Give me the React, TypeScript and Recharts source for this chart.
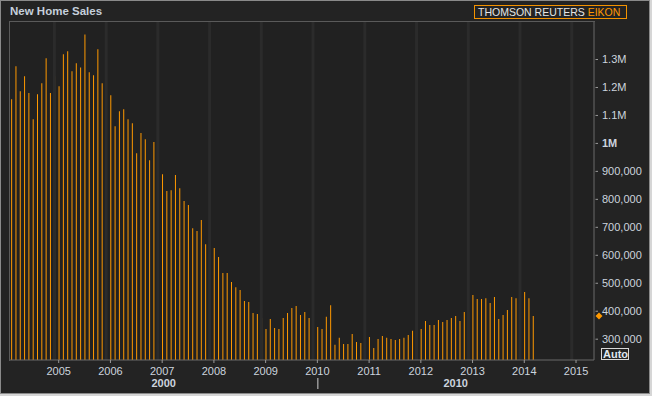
import React from 'react'
import { BarChart, Bar, XAxis, YAxis, CartesianGrid, ReferenceLine } from 'recharts'

// new home sales, seasonally adjusted annual rate, thousands
// one bar per month, first bar is Feb 2004 (month 1 counted from Jan 2004)
const FIRST_MONTH = 1
const SALES = [
  1156, 1274, 1185, 1238, 1178, 1085, 1174, 1213, 1303, 1178, 1238,
  1203, 1317, 1328, 1256, 1285, 1270, 1388, 1253, 1242, 1335, 1213, 1238,
  1170, 1060, 1113, 1120, 1085, 1070, 963, 1035, 1013, 938, 1003, 995,
  888, 828, 831, 885, 838, 792, 778, 695, 685, 724, 638, 617,
  624, 592, 535, 535, 503, 484, 474, 435, 431, 392, 388, 374,
  335, 370, 338, 335, 374, 392, 410, 417, 385, 395, 374, 349,
  342, 335, 378, 420, 278, 303, 281, 281, 317, 288, 285, 324,
  306, 267, 299, 310, 303, 299, 295, 299, 303, 313, 328, 338,
  335, 363, 349, 349, 367, 360, 367, 374, 381, 363, 395, 395,
  456, 442, 442, 445, 428, 449, 370, 385, 403, 449, 445, 435,
  467, 445, 381,
]
const YEAR_LABELS = [2005, 2006, 2007, 2008, 2009, 2010, 2011, 2012, 2013, 2014, 2015]
const VALUE_TICKS = [300000, 400000, 500000, 600000, 700000, 800000, 900000, 1000000, 1100000, 1200000, 1300000]
const DECADES = [2000, 2010]

const X_DOMAIN: [number, number] = [0.7, 136.17]
const Y_DOMAIN: [number, number] = [223800, 1432300]

const data = SALES.map((v, i) => ({ m: FIRST_MONTH + i, sales: v * 1000 }))
const yearTicks = YEAR_LABELS.map((y) => (y - 2004) * 12)
const stripes = YEAR_LABELS.map((y) => (y - 2004) * 12 - 1)
const lastValue = data[data.length - 1].sales

// decade labels sit in the middle of the visible part of each decade
const decadeTicks: number[] = []
const decadeNames: Record<string, string> = {}
DECADES.forEach((d, i) => {
  const start = Math.max((d - 2004) * 12, X_DOMAIN[0])
  const end = Math.min((d + 10 - 2004) * 12, X_DOMAIN[1])
  const mid = (start + end) / 2
  decadeTicks.push(mid)
  decadeNames[String(mid)] = String(d)
  if (i > 0) decadeTicks.push((d - 2004) * 12)
})

const FONT = '"Liberation Sans", Arial, sans-serif'
const TEXT = '#ccd4de'

const fmtValue = (v: number) => (v >= 1000000 ? v / 1000000 + 'M' : v.toLocaleString('en-US'))

function ValueTick(props: any) {
  const { x, y, payload } = props
  const v = payload.value
  if (v === lastValue) {
    return <path d={`M${x + 5},${y - 3.5} L${x + 8.5},${y} L${x + 5},${y + 3.5} L${x + 1.5},${y} Z`} fill="#ff9900" />
  }
  return (
    <g>
      <line x1={x + 1.5} x2={x + 4} y1={y + 0.5} y2={y + 0.5} stroke="#9a9a9a" />
      <text
        x={x + 8}
        y={y}
        dy="0.36em"
        fill={TEXT}
        fontSize={11}
        fontFamily={FONT}
        fontWeight={v === 1000000 ? 'bold' : 'normal'}
      >
        {fmtValue(v)}
      </text>
    </g>
  )
}

function DecadeTick(props: any) {
  const { x, y, payload } = props
  const name = decadeNames[String(payload.value)]
  if (!name) {
    return <line x1={x + 0.5} x2={x + 0.5} y1={y} y2={y + 11} stroke="#d0d0d0" />
  }
  return (
    <text x={x} y={y + 9} textAnchor="middle" fill={TEXT} fontSize={11} fontWeight="bold" fontFamily={FONT}>
      {name}
    </text>
  )
}

export default function App() {
  return (
    <div style={{ position: 'absolute', left: 0, top: 0, width: 652, height: 396, background: '#d6d6d6' }}>
      <div
        style={{
          position: 'absolute',
          left: 0,
          top: 0,
          width: 650,
          height: 394,
          boxSizing: 'border-box',
          border: '1px solid #8a8a8a',
          background: '#232323',
        }}
      />
      <div style={{ position: 'absolute', left: 0, top: 0 }}>
        <BarChart width={652} height={396} data={data} margin={{ top: 22, right: 0, left: 10, bottom: 0 }}>
          <CartesianGrid horizontal={false} vertical={false} fill="#212121" />
          {stripes.map((s) => (
            <ReferenceLine key={s} x={s} stroke="#2b2b2b" strokeWidth={3} />
          ))}
          <XAxis
            dataKey="m"
            type="number"
            domain={X_DOMAIN}
            allowDataOverflow
            ticks={yearTicks}
            interval={0}
            tickFormatter={(m: number) => String(2004 + m / 12)}
            height={18}
            tickSize={3}
            tickMargin={4}
            axisLine={{ stroke: '#6b6b6b' }}
            tickLine={{ stroke: '#9a9a9a' }}
            tick={{ fill: TEXT, fontSize: 11, fontFamily: FONT }}
          />
          <XAxis
            xAxisId="decade"
            dataKey="m"
            type="number"
            domain={X_DOMAIN}
            allowDataOverflow
            ticks={decadeTicks}
            interval={0}
            height={18}
            tickSize={0}
            tickMargin={0}
            axisLine={false}
            tickLine={false}
            tick={<DecadeTick />}
          />
          <YAxis
            orientation="right"
            width={58}
            domain={Y_DOMAIN}
            allowDataOverflow
            ticks={[...VALUE_TICKS, lastValue]}
            interval={0}
            tickSize={0}
            tickMargin={0}
            axisLine={{ stroke: '#6b6b6b' }}
            tickLine={false}
            tick={<ValueTick />}
          />
          <Bar dataKey="sales" fill="#ff9900" barSize={1} isAnimationActive={false} />
        </BarChart>
      </div>
      <div
        style={{
          position: 'absolute',
          left: 9,
          top: 21,
          width: 586,
          height: 340,
          boxSizing: 'border-box',
          borderLeft: '1px solid #5a5a5a',
          borderTop: '1px solid #5a5a5a',
          pointerEvents: 'none',
        }}
      />
      <div
        style={{
          position: 'absolute',
          left: 10,
          top: 5,
          fontFamily: FONT,
          fontSize: 11.5,
          lineHeight: '12px',
          fontWeight: 'bold',
          color: '#c5cfdb',
          whiteSpace: 'nowrap',
        }}
      >
        New Home Sales
      </div>
      <div
        style={{
          position: 'absolute',
          left: 474,
          top: 5,
          width: 153,
          height: 14,
          boxSizing: 'border-box',
          border: '1px solid #f39200',
          paddingLeft: 3,
          fontFamily: FONT,
          fontSize: 10.5,
          lineHeight: '12px',
          color: '#e6e6e6',
          whiteSpace: 'nowrap',
        }}
      >
        THOMSON REUTERS <span style={{ color: '#ff9900' }}>EIKON</span>
      </div>
      <div
        style={{
          position: 'absolute',
          left: 601,
          top: 348,
          width: 28,
          height: 12,
          boxSizing: 'border-box',
          border: '1px solid #d8d8d8',
          paddingLeft: 1,
          fontFamily: FONT,
          fontSize: 11,
          lineHeight: '10px',
          fontWeight: 'bold',
          color: '#dfe6ee',
          whiteSpace: 'nowrap',
          overflow: 'hidden',
        }}
      >
        Auto
      </div>
    </div>
  )
}
